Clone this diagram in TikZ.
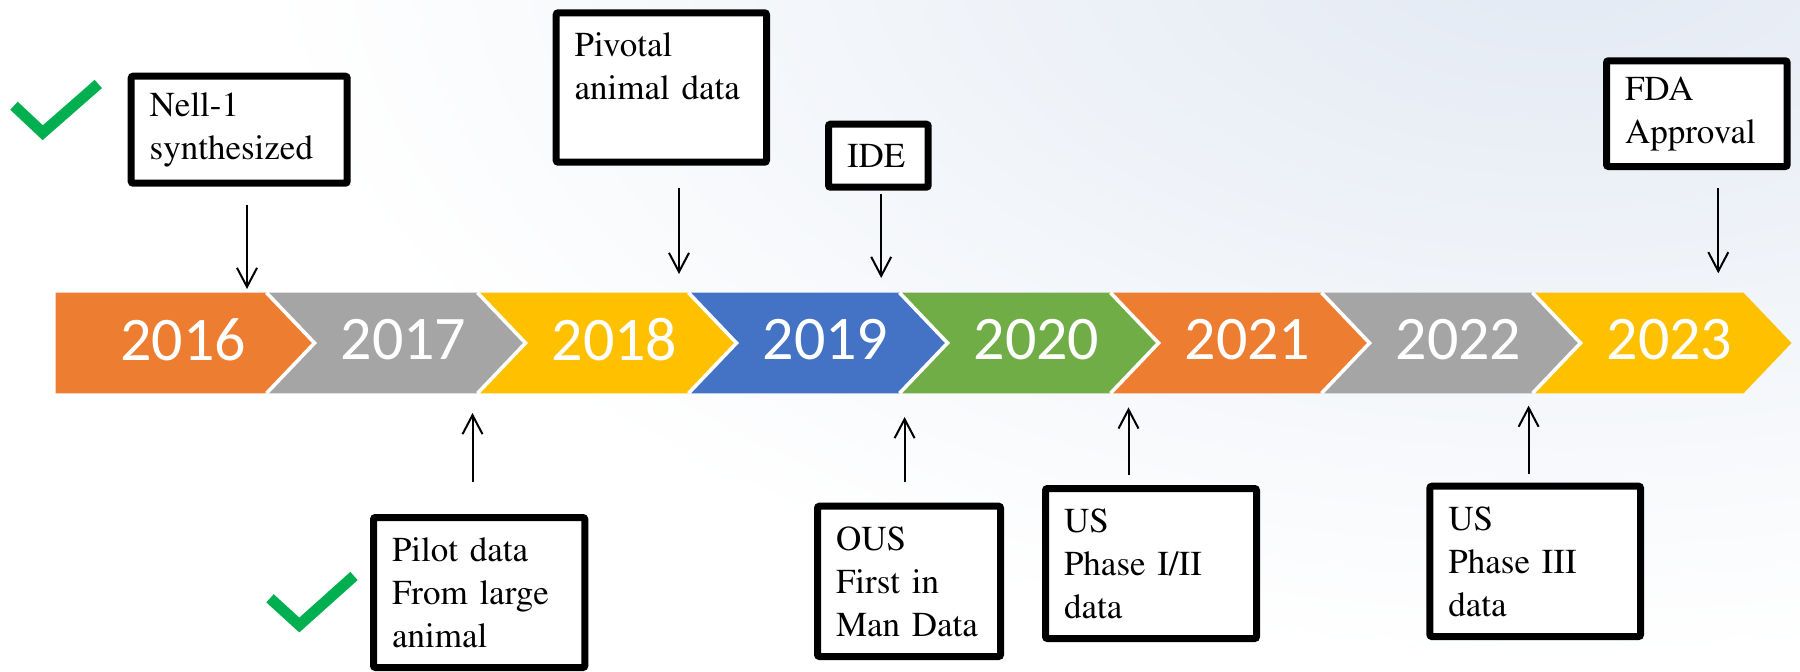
\documentclass[tikz,border=0pt]{standalone}
\usepackage[T1,TU]{fontenc}
\usepackage{fontspec}
\newfontfamily\yearfont{Carlito}
\newcommand{\boxfont}{\fontencoding{T1}\fontfamily{ptm}\selectfont}
\usetikzlibrary{arrows.meta}
\definecolor{segorange}{HTML}{ED7D31}
\definecolor{seggray}{HTML}{A5A5A5}
\definecolor{segyellow}{HTML}{FFC000}
\definecolor{segblue}{HTML}{4472C4}
\definecolor{seggreen}{HTML}{70AD47}
\definecolor{tick}{HTML}{00B050}
\definecolor{haze}{HTML}{E2E9F3}

\begin{document}
\begin{tikzpicture}[x=0.5pt,y=-0.5pt,
  evbox/.style={draw=black, line width=3.5pt, rounded corners=1pt, fill=white,
    inner xsep=9.25pt, inner ysep=0pt, align=left,
    font=\fontsize{17.5pt}{21.5pt}\boxfont},
  yearlabel/.style={text=white, inner sep=0pt,
    font=\yearfont\fontsize{31pt}{36pt}\selectfont},
  pointer/.style={line width=1pt, -{Straight Barb[length=9.5pt,width=10pt]}},
  tickmark/.style={draw=tick, line width=5.5pt, line cap=butt, line join=miter}]

\useasboundingbox (0,0) rectangle (1800,671);

% faint backdrop in the upper right
\begin{scope}
  \clip (0,0) rectangle (1800,671);
  \fill[white] (0,0) rectangle (1800,671);
  \shade[inner color=haze, outer color=white] (1560,-60) ellipse [x radius=1300, y radius=720];
\end{scope}

% year chevrons
\foreach \i/\c/\yr in {0/segorange/2016, 1/seggray/2017, 2/segyellow/2018,
    3/segblue/2019, 4/seggreen/2020, 5/segorange/2021, 6/seggray/2022,
    7/segyellow/2023} {
  \pgfmathsetmacro\L{55.5+211*\i}
  \pgfmathsetmacro\R{\L+211}
  \pgfmathsetmacro\N{\i>0 ? 48 : 0}
  \pgfmathsetmacro\T{\i>0 ? \L+137 : 183}
  \fill[\c] (\L,292.7) -- (\R,292.7) -- (\R+48,343) -- (\R,393.3)
    -- (\L,393.3) -- (\L+\N,343) -- cycle;
  \node[yearlabel] (y\yr) at (\T,340) {\yr};
}
% white separators between chevrons
\foreach \i in {1,...,7} {
  \pgfmathsetmacro\L{55.5+211*\i}
  \draw[white, line width=1.8pt, line join=miter] (\L,292.7) -- (\L+48,343) -- (\L,393.3);
}

% milestone boxes above the band
\node[evbox, text width=216pt*0.5-18.5pt, minimum height=53.5pt] (nell) at (239.2,129.7) {Nell-1\\synthesized};
\node[evbox, text width=210.3pt*0.5-18.5pt, minimum height=74.7pt] (pivotal) at (661.35,87.5) {Pivotal\\animal data\\\mbox{}};
\node[evbox, text width=99.7pt*0.5-18.5pt, minimum height=31.5pt] (ide) at (878.35,155.7) {IDE};
\node[evbox, text width=180.7pt*0.5-18.5pt, minimum height=52.85pt] (fda) at (1696.85,113.65) {FDA\\Approval};

% milestone boxes below the band
\node[evbox, text width=211.3pt*0.5-18.5pt, minimum height=75pt] (pilot) at (479.15,592.5) {Pilot data\\From large\\animal};
\node[evbox, text width=183pt*0.5-18.5pt, minimum height=75.15pt] (ous) at (909,581.35) {OUS\\First in\\Man Data};
\node[evbox, text width=211pt*0.5-18.5pt, minimum height=75pt] (ph12) at (1151,563.5) {US\\Phase I/II\\data};
\node[evbox, text width=210.6pt*0.5-18.5pt, minimum height=75.15pt] (ph3) at (1535.2,561.35) {US\\Phase III\\data};

% pointer end points
\coordinate (nellA) at (247,204.5);    \coordinate (nellB) at (247,289);
\coordinate (pivA) at (679,188.3);     \coordinate (pivB) at (679,274);
\coordinate (ideA) at (881.2,194);     \coordinate (ideB) at (881.2,278);
\coordinate (fdaA) at (1718.3,188.3);  \coordinate (fdaB) at (1718.3,273.3);
\coordinate (pilotA) at (472.5,482.2); \coordinate (pilotB) at (472.5,413);
\coordinate (ousA) at (904.6,482);     \coordinate (ousB) at (904.6,417);
\coordinate (ph12A) at (1128.5,475);   \coordinate (ph12B) at (1128.5,407.4);
\coordinate (ph3A) at (1528.6,474.1);  \coordinate (ph3B) at (1528.6,405.6);

\draw[pointer] (nellA) -- (nellB);
\draw[pointer] (pivA) -- (pivB);
\draw[pointer] (ideA) -- (ideB);
\draw[pointer] (fdaA) -- (fdaB);
\draw[pointer] (pilotA) -- (pilotB);
\draw[pointer] (ousA) -- (ousB);
\draw[pointer] (ph12A) -- (ph12B);
\draw[pointer] (ph3A) -- (ph3B);

% green check marks
\draw[tickmark] (14,105.7) -- (42.7,132.7) -- (98.3,84);
\draw[tickmark] (270,598.3) -- (299.3,625) -- (354,576);
\end{tikzpicture}
\end{document}
